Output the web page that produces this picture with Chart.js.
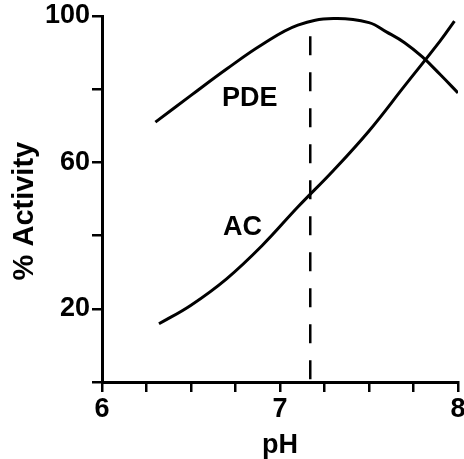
<!DOCTYPE html>
<html>
<head>
<meta charset="utf-8">
<script src="https://cdn.jsdelivr.net/npm/chart.js@4.4.0/dist/chart.umd.min.js"></script>
<style>
  html, body { margin: 0; padding: 0; background: #fff; overflow: hidden; }
  #wrap { width: 464px; height: 459px; position: relative; }
</style>
</head>
<body>
<div id="wrap"><canvas id="chart"></canvas></div>
<script>
// --- data ---
const pdePH       = [6.30, 6.50, 6.70, 6.90, 7.10, 7.30, 7.50, 7.60, 7.70, 7.80, 7.90, 8.00];
const pdeActivity = [71.0, 78.3, 85.5, 92.2, 97.5, 99.3, 98.2, 95.6, 92.7, 88.8, 84.0, 79.0];

const acPH        = [6.32, 6.50, 6.70, 6.90, 7.10, 7.30, 7.50, 7.70, 7.90, 7.98];
const acActivity  = [15.9, 21.0, 28.2, 37.3, 47.8, 57.8, 68.6, 80.9, 93.2, 98.6];

// vertical dashed marker (pH optimum)
const markerPH = 7.17;
const markerTop = 94.5;

// tick labels that are printed
const xTickLabels = [6, 7, 8];
const yTickLabels = [20, 60, 100];

// curve names written next to the curves (data coords)
const curveLabels = ['PDE', 'AC'];
const labelPH = [6.83, 6.79];
const labelActivity = [77.5, 42.3];

const FONT = 'Liberation Sans';

function toPoints(xs, ys) {
  return xs.map((x, i) => ({ x: x, y: ys[i] }));
}

// draws the PDE / AC names
const curveNamePlugin = {
  id: 'curveNames',
  afterDatasetsDraw(chart) {
    const ctx = chart.ctx;
    const xs = chart.scales.x, ys = chart.scales.y;
    ctx.save();
    ctx.font = 'bold 27px "' + FONT + '"';
    ctx.fillStyle = '#000';
    ctx.textAlign = 'center';
    ctx.textBaseline = 'middle';
    curveLabels.forEach((txt, i) => {
      ctx.fillText(txt, xs.getPixelForValue(labelPH[i]), ys.getPixelForValue(labelActivity[i]));
    });
    ctx.restore();
  }
};

const axisGrid = {
  drawOnChartArea: false,
  drawTicks: true,
  tickLength: 10,
  color: '#000',
  lineWidth: 2.5
};

new Chart(document.getElementById('chart'), {
  type: 'line',
  data: {
    datasets: [
      {
        label: 'PDE',
        data: toPoints(pdePH, pdeActivity),
        borderColor: '#000',
        borderWidth: 3,
        pointRadius: 0,
        tension: 0.4,
        fill: false
      },
      {
        label: 'AC',
        data: toPoints(acPH, acActivity),
        borderColor: '#000',
        borderWidth: 3,
        pointRadius: 0,
        tension: 0.4,
        fill: false
      },
      {
        label: 'pH marker',
        data: [{ x: markerPH, y: markerTop }, { x: markerPH, y: 0 }],
        borderColor: '#000',
        borderWidth: 2.5,
        borderDash: [19, 17],
        pointRadius: 0,
        fill: false
      }
    ]
  },
  options: {
    responsive: true,
    maintainAspectRatio: false,
    animation: false,
    layout: { padding: { top: 16, right: 6, left: 0, bottom: 0 } },
    plugins: {
      legend: { display: false },
      tooltip: { enabled: false }
    },
    scales: {
      x: {
        type: 'linear',
        min: 6,
        max: 8,
        grid: axisGrid,
        border: { color: '#000', width: 3 },
        ticks: {
          stepSize: 0.25,
          autoSkip: false,
          maxRotation: 0,
          padding: 1,
          color: '#000',
          font: { family: FONT, weight: 'bold', size: 27 },
          callback: v => xTickLabels.includes(v) ? v : ''
        },
        title: {
          display: true,
          text: 'pH',
          color: '#000',
          font: { family: FONT, weight: 'bold', size: 27, lineHeight: 1 },
          padding: { top: 0, bottom: 0 }
        },
        afterFit(scale) {
          scale.height = 77;
          scale.paddingLeft = 0;
          scale.paddingRight = 0;
        }
      },
      y: {
        type: 'linear',
        min: 0,
        max: 100,
        grid: axisGrid,
        border: { color: '#000', width: 3 },
        ticks: {
          stepSize: 20,
          padding: 2,
          color: '#000',
          font: { family: FONT, weight: 'bold', size: 27 },
          callback: v => yTickLabels.includes(v) ? v : ''
        },
        title: {
          display: true,
          text: '% Activity   ',
          color: '#000',
          font: { family: FONT, weight: 'bold', size: 29, lineHeight: 1 },
          padding: { top: 10.5, bottom: 0 }
        },
        afterFit(scale) {
          scale.width = 102;
          scale.paddingTop = 0;
          scale.paddingBottom = 0;
        }
      }
    }
  },
  plugins: [curveNamePlugin]
});
</script>
</body>
</html>
